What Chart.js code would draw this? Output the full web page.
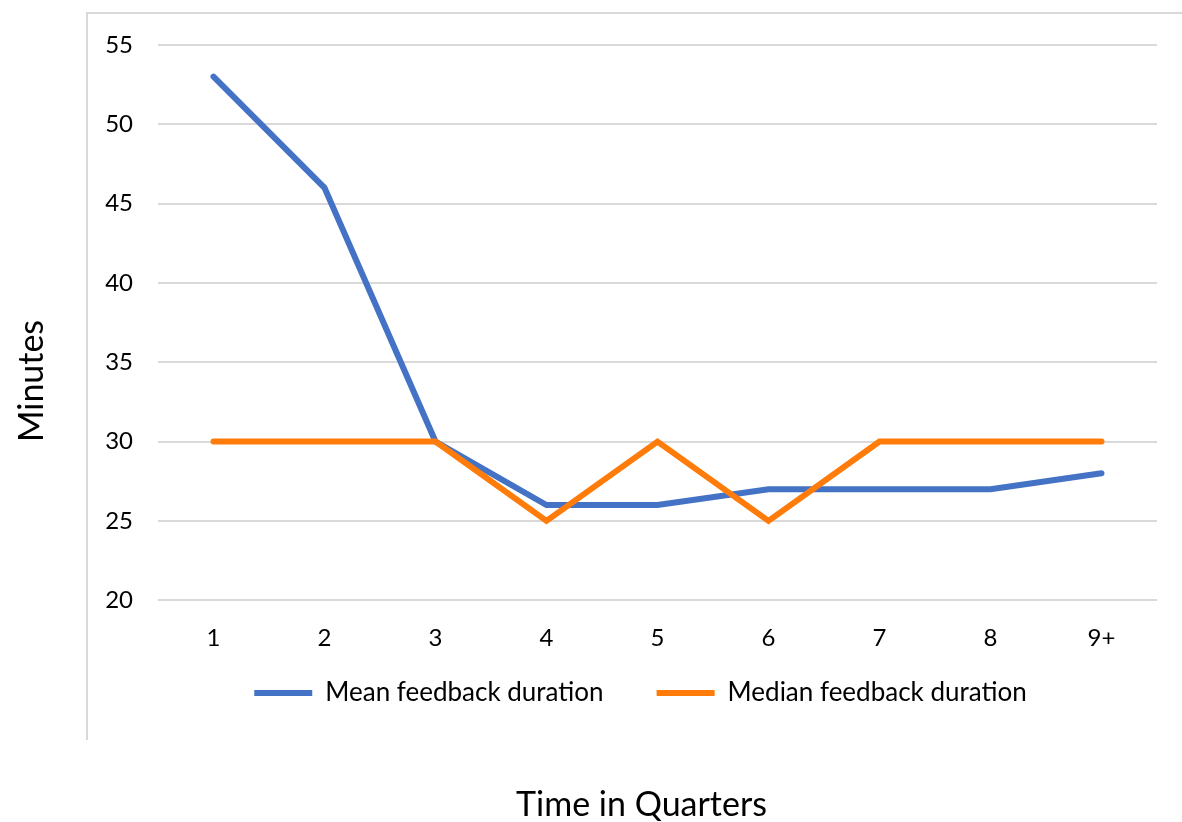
<!DOCTYPE html>
<html>
<head>
<meta charset="utf-8">
<script src="https://cdn.jsdelivr.net/npm/chart.js@4"></script>
<style>
    body { margin: 0; background: #fff; }
    #wrap { position: relative; width: 1182px; height: 822px; }
    /* light frame from the original sheet */
    #frame { position: absolute; left: 86px; top: 12px; width: 1096px; height: 728px;
             border-left: 2px solid #d9d9d9; border-top: 2px solid #d9d9d9; box-sizing: border-box; }
    canvas { position: absolute; left: 0; top: 0; }
</style>
</head>
<body>
<div id="wrap">
    <div id="frame"></div>
    <canvas id="myChart" width="1182" height="822"></canvas>
</div>
<script>
// chart data
const quarterLabels = ['1', '2', '3', '4', '5', '6', '7', '8', '9+'];
const meanDuration = [53, 46, 30, 26, 26, 27, 27, 27, 28];
const medianDuration = [30, 30, 30, 25, 30, 25, 30, 30, 30];
const yTicks = [20, 25, 30, 35, 40, 45, 50, 55];

const fontName = 'Lato, "Open Sans", sans-serif';
const legendFontSize = 26;

// move legend / x title where the original sheet had them, and draw the y title
const layoutTweaks = {
    id: 'layoutTweaks',
    afterLayout: (chart) => {
        const lg = chart.legend;
        const shift = lg.top + lg.options.labels.padding + legendFontSize / 2 - 693;
        lg.top -= shift;
        lg.bottom -= shift;
        lg.left -= 17;
        lg.right -= 17;
        chart.titleBlock.left -= 16;
        chart.titleBlock.right -= 16;
    },
    afterDraw: (chart) => {
        const c = chart.ctx;
        c.save();
        c.translate(32, 381);
        c.rotate(-Math.PI / 2);
        c.fillStyle = '#000';
        c.font = '34px ' + fontName;
        c.textAlign = 'center';
        c.textBaseline = 'middle';
        c.fillText('Minutes', 0, 0);
        c.restore();
    }
};

const ctx = document.getElementById('myChart');

mychartView = new Chart(ctx, {
    type: 'line',
    data: {
        labels: quarterLabels,
        datasets: [{
            label: 'Mean feedback duration',
            data: meanDuration,
            borderColor: '#4472C4',
            backgroundColor: '#4472C4',
            borderWidth: 6,
            borderCapStyle: 'round',
            pointRadius: 0,
            tension: 0,
            order: 1
        }, {
            label: 'Median feedback duration',
            data: medianDuration,
            borderColor: '#FF7C0A',
            backgroundColor: '#FF7C0A',
            borderWidth: 6,
            borderCapStyle: 'round',
            pointRadius: 0,
            tension: 0,
            order: 0
        }]
    },
    plugins: [layoutTweaks],
    options: {
        responsive: false,
        animation: false,
        layout: {
            padding: { left: 14, right: 25, top: 45, bottom: 0 }
        },
        plugins: {
            tooltip: { enabled: false },
            legend: {
                position: 'bottom',
                fullSize: false,
                labels: {
                    usePointStyle: true,
                    pointStyle: 'line',
                    pointStyleWidth: 58,
                    boxHeight: legendFontSize,
                    padding: 53,
                    color: '#000',
                    font: { family: fontName, size: legendFontSize },
                    sort: (a, b) => a.datasetIndex - b.datasetIndex
                }
            },
            title: {
                display: true,
                position: 'bottom',
                fullSize: false,
                text: 'Time in Quarters',
                color: '#000',
                font: { family: fontName, size: 34, weight: 'normal', lineHeight: 1 },
                padding: { top: 22, bottom: 0 }
            }
        },
        scales: {
            x: {
                offset: true,
                grid: { display: false, drawTicks: false },
                border: { display: false },
                ticks: {
                    color: '#000',
                    padding: 24,
                    font: { family: fontName, size: 24 }
                }
            },
            y: {
                min: 20,
                max: 55,
                afterBuildTicks: (scale) => { scale.ticks = yTicks.map(v => ({ value: v })); },
                grid: { color: '#d9d9d9', lineWidth: 2, drawTicks: false },
                border: { display: false },
                ticks: {
                    color: '#000',
                    padding: 25,
                    font: { family: fontName, size: 24 }
                },
                afterFit: (scale) => { scale.width = 144; }
            }
        }
    }
});
</script>
</body>
</html>
